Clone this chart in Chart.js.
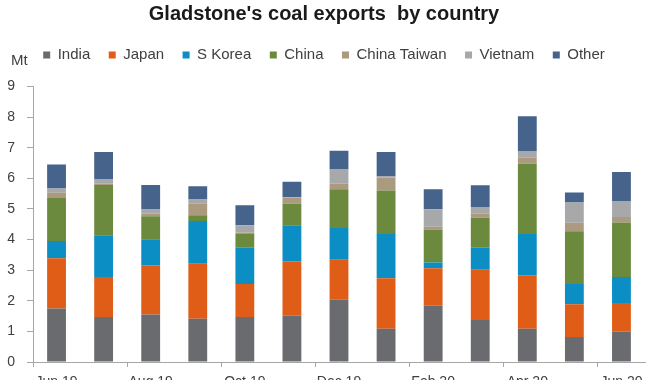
<!DOCTYPE html>
<html>
<head>
<meta charset="utf-8">
<script src="https://cdn.jsdelivr.net/npm/chart.js@4.4.1/dist/chart.umd.min.js"></script>
<style>
  html, body { margin: 0; padding: 0; background: #ffffff; }
  #wrap { width: 670px; height: 380px; position: relative; }
</style>
</head>
<body>
<div id="wrap"><canvas id="c" width="670" height="380"></canvas></div>
<script>
const months = ['Jun 19','Jul 19','Aug 19','Sep 19','Oct 19','Nov 19','Dec 19','Jan 20','Feb 20','Mar 20','Apr 20','May 20','Jun 20'];
const seriesNames = ['India','Japan','S Korea','China','China Taiwan','Vietnam','Other'];
const india       = [1.75, 1.47, 1.55, 1.41, 1.47, 1.51, 2.03, 1.09, 1.84, 1.37, 1.09, 0.82, 1.00];
const japan       = [1.64, 1.31, 1.61, 1.80, 1.08, 1.78, 1.31, 1.65, 1.22, 1.64, 1.74, 1.07, 0.93];
const sKorea      = [0.56, 1.36, 0.85, 1.40, 1.18, 1.18, 1.04, 1.44, 0.19, 0.72, 1.35, 0.66, 0.85];
const china       = [1.41, 1.64, 0.75, 0.18, 0.45, 0.70, 1.26, 1.42, 1.08, 0.98, 2.30, 1.72, 1.78];
const chinaTaiwan = [0.17, 0.05, 0.09, 0.38, 0.05, 0.20, 0.19, 0.43, 0.09, 0.13, 0.19, 0.28, 0.18];
const vietnam     = [0.14, 0.13, 0.13, 0.14, 0.24, 0.02, 0.46, 0.03, 0.57, 0.22, 0.22, 0.66, 0.52];
const other       = [0.78, 0.90, 0.80, 0.43, 0.65, 0.50, 0.61, 0.80, 0.65, 0.71, 1.14, 0.33, 0.95];
const yTicks      = [0, 1, 2, 3, 4, 5, 6, 7, 8, 9];
const colors = ['#6a6b6f', '#e05d17', '#0b8ec3', '#6b8a3e', '#ab9a7d', '#a7a8aa', '#46638b'];

const seriesData = [india, japan, sKorea, china, chinaTaiwan, vietnam, other];
const FONT = "'Liberation Sans', Arial, sans-serif";

const mtPlugin = {
  id: 'mtLabel',
  beforeInit(chart) {
    const lg = chart.legend;
    if (lg) {
      const origFit = lg.fit;
      lg.fit = function () { origFit.call(this); this.height += 14; };
    }
  },
  afterDraw(chart) {
    const ctx = chart.ctx;
    ctx.save();
    ctx.font = "15px " + FONT;
    ctx.fillStyle = '#404040';
    ctx.textBaseline = 'middle';
    ctx.textAlign = 'left';
    ctx.fillText('Mt', 11, 61);
    ctx.restore();
  }
};

new Chart(document.getElementById('c'), {
  type: 'bar',
  data: {
    labels: months,
    datasets: seriesNames.map((n, i) => ({
      label: n,
      data: seriesData[i],
      backgroundColor: colors[i],
      borderWidth: 0,
      barPercentage: 0.4,
      categoryPercentage: 1.0
    }))
  },
  options: {
    responsive: false,
    animation: false,
    devicePixelRatio: 1,
    layout: { padding: { left: 3, right: 25, top: 0, bottom: 0 } },
    plugins: {
      title: {
        display: true,
        text: "Gladstone's coal exports  by country",
        color: '#1a1a1a',
        font: { family: FONT, size: 20, weight: 'bold' },
        padding: { top: 2, bottom: 3 }
      },
      legend: {
        display: true,
        position: 'top',
        align: 'center',
        labels: {
          boxWidth: 7,
          boxHeight: 7,
          padding: 18.5,
          color: '#404040',
          font: { family: FONT, size: 15 }
        }
      },
      tooltip: { enabled: false }
    },
    scales: {
      x: {
        stacked: true,
        offset: true,
        afterFit(s) { s.height = 18; s.paddingLeft = 0; s.paddingRight = 0; },
        border: { display: true, color: '#a6a6a6', width: 1 },
        grid: {
          offset: true,
          drawOnChartArea: false,
          drawTicks: true,
          tickLength: 5,
          color: (ctx) => (ctx.index !== undefined && ctx.index % 2 === 0) ? '#a6a6a6' : 'rgba(0,0,0,0)'
        },
        ticks: {
          autoSkip: false,
          maxRotation: 0,
          padding: 7,
          color: '#404040',
          font: { family: FONT, size: 14 },
          callback: (v, i) => (i % 2 === 0 ? months[i] : '')
        }
      },
      y: {
        stacked: true,
        min: yTicks[0],
        max: yTicks[yTicks.length - 1],
        afterFit(s) { s.width = 30; s.paddingTop = 0; s.paddingBottom = 0; },
        afterBuildTicks(s) { s.ticks = yTicks.map(v => ({ value: v })); },
        border: { display: true, color: '#a6a6a6', width: 1 },
        grid: {
          drawOnChartArea: false,
          drawTicks: true,
          tickLength: 6,
          color: '#a6a6a6'
        },
        ticks: {
          padding: 12,
          color: '#404040',
          font: { family: FONT, size: 14 }
        }
      }
    }
  },
  plugins: [mtPlugin]
});
</script>
</body>
</html>
